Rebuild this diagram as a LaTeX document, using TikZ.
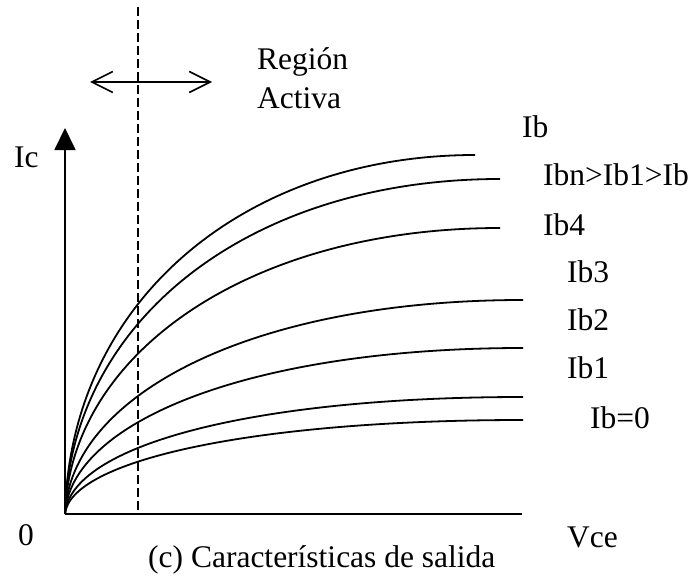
\documentclass[tikz,border=0pt]{standalone}
\usepackage{fontspec}
\setmainfont{Liberation Serif}
\usetikzlibrary{arrows.meta}
\newcommand{\Curva}[4]{%
  \draw[curva] (O) .. controls (70,#2) and (250,#4) .. (#3,#4) coordinate (#1);
}

\begin{document}
\begin{tikzpicture}[x=1pt,y=-1pt,
    texto/.style={anchor=base west, inner sep=0pt, font=\fontsize{31.5}{36}\selectfont},
    eje/.style={line width=1.8pt},
    curva/.style={line width=1.8pt}]
    \useasboundingbox (0,0) rectangle (691,586);

    \coordinate (O) at (65,514);
    \coordinate (ytop) at (65,128);
    \coordinate (xend) at (522,514);
    \coordinate (dtop) at (138,7);
    \coordinate (dbot) at (138,514);
    \coordinate (izq) at (90,82);
    \coordinate (der) at (212,82);

    % ejes
    \draw[eje, -{Triangle[width=21pt,length=22pt]}] (O) -- (ytop);
    \draw[eje] (O) -- (xend);
    \draw[line width=2pt, dash pattern=on 9pt off 4pt] (dtop) -- (dbot);
    \draw[line width=1.6pt, {Straight Barb[length=21pt,width=21pt]}-{Straight Barb[length=21pt,width=21pt]}]
      (izq) -- (der);

    % curvas de salida
    \Curva{c1}{296}{475}{155}
    \Curva{c2}{320}{500}{179}
    \Curva{c3}{353}{500}{228}
    \Curva{c4}{396}{523}{300}
    \Curva{c5}{422}{523}{348}
    \Curva{c6}{446}{523}{397}
    \Curva{c7}{461}{523}{420}

    % textos
    \node[texto] (region) at (257,70) {Región};
    \node[texto] (activa) at (257,108) {Activa};
    \node[texto] (ic) at (14,167) {Ic};
    \node[texto] (ib) at (522,137) {Ib};
    \node[texto] (ibn) at (543,185) {Ibn>Ib1>Ib};
    \node[texto] (ib4) at (543,235) {Ib4};
    \node[texto] (ib3) at (567,282) {Ib3};
    \node[texto] (ib2) at (567,330) {Ib2};
    \node[texto] (ib1) at (567,378) {Ib1};
    \node[texto] (ib0) at (590,428) {Ib=0};
    \node[texto] (cero) at (18,545) {0};
    \node[texto] (vce) at (567,547) {Vce};
    \node[texto] (titulo) at (148,567) {(c) Características de salida};
\end{tikzpicture}
\end{document}
